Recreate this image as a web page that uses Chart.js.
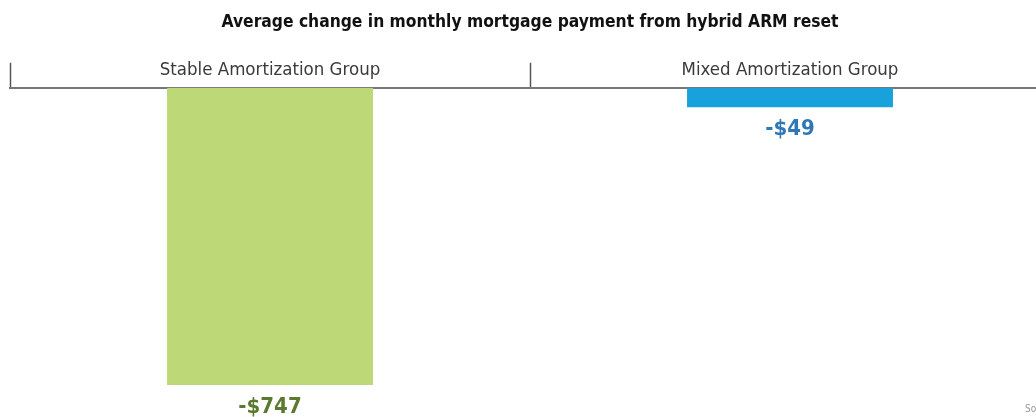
<!DOCTYPE html>
<html>
<head>
<meta charset="utf-8">
<script src="https://cdn.jsdelivr.net/npm/chart.js@4.4.1/dist/chart.umd.min.js"></script>
<style>
    html, body { margin: 0; padding: 0; background: #fff; overflow: hidden; }
    #wrap { width: 1060px; height: 417px; }
</style>
</head>
<body>
<div id="wrap"><canvas id="chart" width="1060" height="417"></canvas></div>
<script>
const categories = ['Stable Amortization Group', 'Mixed Amortization Group'];
const paymentChange = [-747, -49];
const valueLabels = ['-$747', '-$49'];
const barColors = ['#bdd977', '#19a1db'];
const labelColors = ['#5b7a30', '#2f78b5'];

//Etiquetas de categoria y de valor
const labelPlugin = {
    id: 'customLabels',
    afterDraw(chart) {
        const ctx = chart.ctx;
        const xScale = chart.scales.x;
        const meta = chart.getDatasetMeta(0);
        ctx.save();
        ctx.textAlign = 'center';
        // nombres de grupo sobre el eje
        ctx.font = '300 18.5px "DejaVu Sans Condensed", "DejaVu Sans", sans-serif';
        ctx.fillStyle = '#3a3a3a';
        ctx.textBaseline = 'middle';
        categories.forEach((c, i) => {
            ctx.fillText(c, xScale.getPixelForValue(i), xScale.bottom - 18);
        });
        // valores bajo cada barra
        ctx.font = 'bold 22px "DejaVu Sans Condensed", "DejaVu Sans", sans-serif';
        ctx.textBaseline = 'top';
        meta.data.forEach((bar, i) => {
            ctx.fillStyle = labelColors[i];
            ctx.fillText(valueLabels[i], bar.x, bar.y + 11);
        });
        // fuente (cortada en el borde derecho)
        ctx.font = '10px "DejaVu Sans Condensed", sans-serif';
        ctx.fillStyle = '#999';
        ctx.textAlign = 'left';
        ctx.fillText('Source: JPMorgan Chase Institute', 1025, 404);
        ctx.restore();
    }
};

const chartBar = document.getElementById('chart');
new Chart(chartBar, {
    type: 'bar',
    data: {
        labels: categories,
        datasets: [{
            data: paymentChange,
            backgroundColor: barColors,
            borderWidth: 0,
            categoryPercentage: 1,
            barPercentage: 0.396
        }]
    },
    options: {
        responsive: false,
        animation: false,
        layout: {
            padding: { left: 10, right: 10, top: 0, bottom: 32 }
        },
        scales: {
            x: {
                position: 'top',
                grid: {
                    offset: true,
                    drawOnChartArea: false,
                    tickLength: 25,
                    tickWidth: 1.5,
                    tickColor: '#555'
                },
                border: { color: '#777', width: 2 },
                ticks: { display: false },
                afterFit: (scale) => { scale.height = 25; }
            },
            y: {
                display: false,
                min: -747,
                max: 0
            }
        },
        plugins: {
            legend: { display: false },
            tooltip: { enabled: false },
            title: {
                display: true,
                text: 'Average change in monthly mortgage payment from hybrid ARM reset',
                color: '#111',
                padding: { top: 12, bottom: 30 },
                align: 'center',
                font: { family: '"DejaVu Sans Condensed", "DejaVu Sans", sans-serif', size: 17.3, weight: 'bold' }
            }
        }
    },
    plugins: [labelPlugin]
});
</script>
</body>
</html>
